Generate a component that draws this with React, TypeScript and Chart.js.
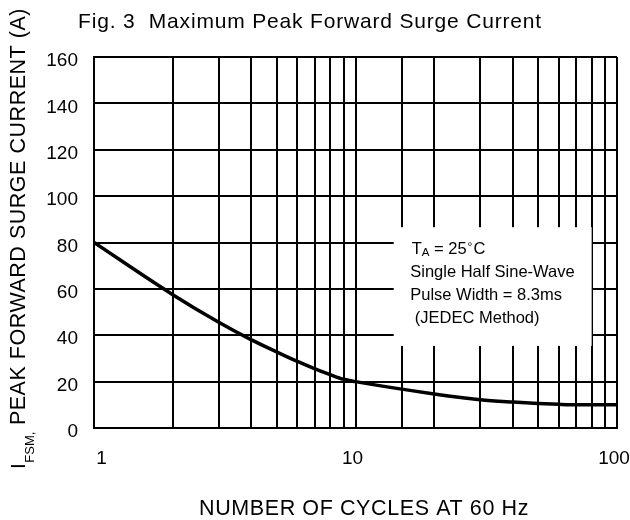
import React, { useEffect, useRef } from 'react';
import { Chart, registerables } from 'chart.js';

Chart.register(...registerables);

// ---- data ----
const cycles = [1, 2, 3, 4, 5, 6, 7, 8, 9, 10, 20, 30, 40, 50, 60, 70, 80, 90, 100];
const surgeCurrent = [80, 57.5, 45.6, 38, 32.8, 28.7, 25.5, 23, 21, 20, 14.7, 12.2, 11.2, 10.6, 10.2, 10, 10, 10, 10];
const yTickValues = [0, 20, 40, 60, 80, 100, 120, 140, 160];
const xTickLabels = [1, 10, 100];
const titleText = 'Fig. 3  Maximum Peak Forward Surge Current';
const xTitleText = 'NUMBER OF CYCLES AT 60 Hz';
const yTitleMain = 'I';
const yTitleSub = 'FSM,';
const yTitleRest = ' PEAK FORWARD SURGE CURRENT (A)';
const noteLines = ['Single Half Sine-Wave', 'Pulse Width = 8.3ms', ' (JEDEC Method)'];

const FONT = "'Liberation Sans', Arial, Helvetica, sans-serif";

function setFont(ctx: CanvasRenderingContext2D, size: number) {
  ctx.font = `${size}px ${FONT}`;
}

function fitText(ctx: CanvasRenderingContext2D, text: string, size: number, target: number) {
  setFont(ctx, size);
  (ctx as any).letterSpacing = '0px';
  const w = ctx.measureText(text).width;
  const sp = (target - w) / text.length;
  (ctx as any).letterSpacing = `${sp}px`;
}

const decorPlugin = {
  id: 'decor',
  afterDraw(chart: any) {
    const ctx: CanvasRenderingContext2D = chart.ctx;
    const xs = chart.scales.x;
    const ys = chart.scales.y;
    ctx.save();
    ctx.fillStyle = '#000';
    ctx.textBaseline = 'alphabetic';
    ctx.textAlign = 'left';

    // title
    fitText(ctx, titleText, 21, 464);
    ctx.fillText(titleText, 78, 28);

    // x-axis title
    fitText(ctx, xTitleText, 21.5, 330);
    ctx.fillText(xTitleText, 199, 515);

    // y-axis title (rotated)
    ctx.save();
    ctx.translate(25, 469);
    ctx.rotate(-Math.PI / 2);
    setFont(ctx, 21);
    (ctx as any).letterSpacing = '0px';
    ctx.fillText(yTitleMain, 0, 0);
    let pos = ctx.measureText(yTitleMain).width + 0.5;
    setFont(ctx, 13);
    ctx.fillText(yTitleSub, pos, 9);
    pos += ctx.measureText(yTitleSub).width;
    fitText(ctx, yTitleRest, 21.5, 461 - pos);
    ctx.fillText(yTitleRest, pos, 0);
    ctx.restore();
    (ctx as any).letterSpacing = '0px';

    // note box
    const bx0 = xs.getPixelForValue(14);
    const bx1 = xs.getPixelForValue(80);
    const by0 = ys.getPixelForValue(86.6);
    const by1 = ys.getPixelForValue(35.4);
    ctx.fillStyle = '#fff';
    ctx.fillRect(bx0, by0, bx1 - bx0, by1 - by0);
    ctx.fillStyle = '#000';

    // T_A = 25°C
    let tx = bx0 + 18;
    const tb = by0 + 27;
    setFont(ctx, 16.5);
    ctx.fillText('T', tx, tb);
    tx += ctx.measureText('T').width;
    setFont(ctx, 11.5);
    ctx.fillText('A', tx, tb + 2);
    tx += ctx.measureText('A').width;
    setFont(ctx, 16.5);
    ctx.fillText(' = 25', tx, tb);
    tx += ctx.measureText(' = 25').width + 1;
    setFont(ctx, 12);
    ctx.fillText('\u00B0', tx, tb - 3);
    tx += ctx.measureText('\u00B0').width + 1;
    setFont(ctx, 16.5);
    ctx.fillText('C', tx, tb);

    noteLines.forEach((line, i) => {
      ctx.fillText(line, bx0 + 16.5, tb + 23 * (i + 1));
    });

    ctx.restore();
  },
};

export default function App() {
  const canvasRef = useRef<HTMLCanvasElement | null>(null);

  useEffect(() => {
    const canvas = canvasRef.current;
    if (!canvas) return;
    const chart = new Chart(canvas, {
      type: 'line',
      data: {
        datasets: [
          {
            data: cycles.map((c, i) => ({ x: c, y: surgeCurrent[i] })),
            borderColor: '#000',
            borderWidth: 3.5,
            pointRadius: 0,
            fill: false,
            cubicInterpolationMode: 'monotone',
          },
        ],
      },
      options: {
        animation: false,
        responsive: false,
        devicePixelRatio: 1,
        layout: { padding: { top: 57, left: 0, right: 13, bottom: 0 } },
        plugins: {
          legend: { display: false },
          title: { display: false },
          tooltip: { enabled: false },
        },
        scales: {
          x: {
            type: 'logarithmic',
            min: 1,
            max: 100,
            afterFit: (scale: any) => {
              scale.height = 92;
              scale.paddingLeft = 0;
              scale.paddingRight = 0;
            },
            grid: { color: '#000', lineWidth: 2, drawTicks: false },
            border: { display: true, color: '#000', width: 2 },
            ticks: {
              autoSkip: false,
              maxRotation: 0,
              padding: 19,
              labelOffset: -3,
              color: '#000',
              font: { family: FONT, size: 19 },
              callback: (v: any) => {
                const n = Number(v);
                if (!xTickLabels.includes(n)) return '';
                return n === xTickLabels[0] ? '    ' + String(n) : String(n);
              },
            },
          },
          y: {
            type: 'linear',
            min: 0,
            max: 160,
            afterFit: (scale: any) => {
              scale.width = 94;
              scale.paddingTop = 0;
              scale.paddingBottom = 0;
            },
            afterBuildTicks: (scale: any) => {
              scale.ticks = yTickValues.map((v) => ({ value: v }));
            },
            grid: { color: '#000', lineWidth: 2, drawTicks: false },
            border: { display: true, color: '#000', width: 2 },
            ticks: {
              padding: 16,
              labelOffset: 4,
              color: '#000',
              font: { family: FONT, size: 19 },
            },
          },
        },
      },
      plugins: [decorPlugin],
    } as any);
    return () => chart.destroy();
  }, []);

  return (
    <div style={{ position: 'fixed', left: 0, top: 0, width: 630, height: 520, background: '#fff' }}>
      <canvas ref={canvasRef} width={630} height={520} style={{ display: 'block' }} />
    </div>
  );
}
